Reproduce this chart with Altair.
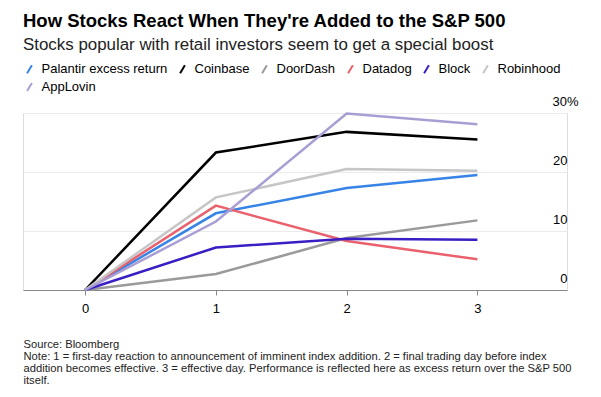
import altair as alt
import pandas as pd

days = [0, 1, 2, 3]
series_names = ["Palantir excess return", "Coinbase", "DoorDash", "Datadog",
                "Block", "Robinhood", "AppLovin"]
palantir = [0, 13.0, 17.3, 19.5]
coinbase = [0, 23.3, 26.8, 25.5]
doordash = [0, 2.7, 8.8, 11.8]
datadog = [0, 14.3, 8.3, 5.2]
block = [0, 7.2, 8.7, 8.5]
robinhood = [0, 15.7, 20.5, 20.2]
applovin = [0, 11.6, 29.9, 28.1]
colors = ["#3783e6", "#000000", "#9a9a9a", "#e9616d", "#3a1ec4", "#c6c6c6", "#a89ed4"]
y_ticks = [0, 10, 20, 30]

title_text = "How Stocks React When They're Added to the S&P 500"
subtitle_text = "Stocks popular with retail investors seem to get a special boost"
footer_lines = [
    "Source: Bloomberg",
    "Note: 1 = first-day reaction to announcement of imminent index addition. 2 = final trading day before index",
    "addition becomes effective. 3 = effective day. Performance is reflected here as excess return over the S&P 500",
    "itself.",
]

all_values = [palantir, coinbase, doordash, datadog, block, robinhood, applovin]
rows = []
for name, vals in zip(series_names, all_values):
    for d, v in zip(days, vals):
        rows.append({"day": d, "value": v, "series": name})
df = pd.DataFrame(rows)

FONT = "Liberation Sans"

chart = alt.Chart(df).mark_line(strokeWidth=2.5).encode(
    x=alt.X("day:Q",
            scale=alt.Scale(domain=[-0.475, 3.685], nice=False, zero=False),
            axis=alt.Axis(values=days, format="d", grid=False,
                          domainColor="#888888", domainWidth=1,
                          tickColor="#888888", tickSize=5,
                          labelFontSize=13, labelColor="#000000", labelPadding=7,
                          labelFont=FONT,
                          title=footer_lines, titleFont=FONT, titleFontSize=11.2,
                          titleFontWeight="normal", titleColor="#222222",
                          titleAnchor="start", titleAlign="left",
                          titleBaseline="alphabetic", titleX=0, titleY=57,
                          titleLineHeight=12)),
    y=alt.Y("value:Q",
            scale=alt.Scale(domain=[0, 30], nice=False),
            axis=alt.Axis(orient="right", values=y_ticks, domain=False, ticks=False,
                          tickSize=0, grid=True, gridColor="#ebebeb", gridWidth=1,
                          labelAlign="right", labelBaseline="alphabetic",
                          labelOffset=-8, labelFontSize=13, labelColor="#000000",
                          labelFont=FONT,
                          labelPadding={"condition": {"test": "datum.value == 30", "value": 11}, "value": 0},
                          labelExpr="datum.value == 30 ? '30%' : datum.label",
                          title=None)),
    color=alt.Color("series:N",
                    scale=alt.Scale(domain=series_names, range=colors),
                    legend=alt.Legend(orient="none", legendX=0, legendY=-50.5,
                                      direction="horizontal", columns=6, title=None,
                                      symbolType="M-0.6,1L0.6,-1", symbolSize=64,
                                      symbolStrokeWidth=2, labelFontSize=13,
                                      labelFont=FONT, labelColor="#000000",
                                      labelOffset=5.5, columnPadding=8, rowPadding=1,
                                      padding=0)),
    order=alt.Order("day:Q"),
).properties(
    width=544,
    height=177,
    title=alt.TitleParams(text=title_text, subtitle=subtitle_text, anchor="start",
                          font=FONT, fontSize=18.5, fontWeight="bold", color="#000000",
                          subtitleFont=FONT, subtitleFontSize=16.9,
                          subtitleColor="#222222", subtitlePadding=6, offset=10),
    padding={"left": 15, "top": 105, "right": 16, "bottom": 99},
    autosize=alt.AutoSizeParams(type="none"),
).configure_view(stroke=None).configure(background="#ffffff")

chart.save("out.html", embed_options={"renderer": "svg", "actions": False})
